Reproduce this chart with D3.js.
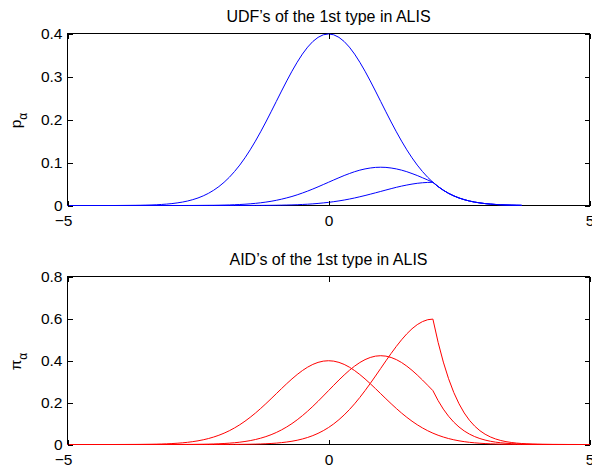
<!DOCTYPE html>
<html><head><meta charset="utf-8">
<script src="https://cdn.jsdelivr.net/npm/d3@7"></script>
<style>
body{margin:0;background:#fff}
svg{display:block}
text{font-family:"Liberation Sans",Arial,Helvetica,sans-serif;fill:#000}
</style></head><body>
<svg id="c" width="592" height="470"></svg>
<script>
// sample positions on the x axis
const xs = [-5,-4.9,-4.8,-4.7,-4.6,-4.5,-4.4,-4.3,-4.2,-4.1,-4,-3.9,-3.8,-3.7,-3.6,-3.5,-3.4,-3.3,-3.2,-3.1,-3,-2.9,-2.8,-2.7,-2.6,-2.5,-2.4,-2.3,-2.2,-2.1,-2,-1.9,-1.8,-1.7,-1.6,-1.5,-1.4,-1.3,-1.2,-1.1,-1,-0.9,-0.8,-0.7,-0.6,-0.5,-0.4,-0.3,-0.2,-0.1,0,0.1,0.2,0.3,0.4,0.5,0.6,0.7,0.8,0.9,1,1.1,1.2,1.3,1.4,1.5,1.6,1.7,1.8,1.9,2,2.1,2.2,2.3,2.4,2.5,2.6,2.7,2.8,2.9,3,3.1,3.2,3.3,3.4,3.5,3.6,3.7,3.8,3.9,4,4.1,4.2,4.3,4.4,4.5,4.6,4.7,4.8,4.9,5];

// UDF's (top panel), x = -5 .. 3.7
const udf1 = [0,0,0,0,0,0,0,0,0,0,
 .0001,.0002,.0003,.0004,.0006,.0009,.0012,.0017,.0024,.0033,.0044,.0060,.0079,.0104,.0136,.0175,.0224,.0283,.0355,.0440,
 .0540,.0656,.0790,.0940,.1109,.1295,.1497,.1714,.1942,.2179,.2420,.2661,.2897,.3123,.3332,.3521,.3683,.3814,.3910,.3970,
 .3989,
 .3970,.3910,.3814,.3683,.3521,.3332,.3123,.2897,.2661,.2420,.2179,.1942,.1714,.1497,.1295,.1109,.0940,.0790,.0656,.0540,
 .0440,.0355,.0283,.0224,.0175,.0136,.0104,.0079,.0060,.0044,.0033,.0024,.0017,.0012,.0009,.0006,.0004];
const udf2 = [0,0,0,0,0,0,0,0,0,0,0,0,0,0,0,0,0,0,0,0,0,0,0,
 .0001,.0001,.0002,.0003,.0004,.0005,.0007,.0010,.0013,.0018,.0023,.0030,.0039,.0050,.0063,.0079,.0098,.0121,.0147,.0177,.0210,.0248,.0290,.0335,.0383,.0434,.0487,
 .0540,.0594,.0646,.0697,.0743,.0786,.0822,.0851,.0872,.0886,.0890,.0886,.0872,.0851,.0822,.0786,.0743,.0697,.0646,.0594,.0540,
 .0440,.0355,.0283,.0224,.0175,.0136,.0104,.0079,.0060,.0044,.0033,.0024,.0017,.0012,.0009,.0006,.0004];
const udf3 = [0,0,0,0,0,0,0,0,0,0,0,0,0,0,0,0,0,0,0,0,0,0,0,0,0,0,0,0,0,0,0,0,0,0,
 .0001,.0001,.0002,.0002,.0003,.0004,.0006,.0008,.0011,.0014,.0018,.0024,.0030,.0038,.0048,.0060,
 .0073,.0089,.0107,.0127,.0150,.0175,.0203,.0232,.0263,.0295,.0327,.0360,.0392,.0423,.0451,.0476,.0498,.0516,.0529,.0537,.0540,
 .0440,.0355,.0283,.0224,.0175,.0136,.0104,.0079,.0060,.0044,.0033,.0024,.0017,.0012,.0009,.0006,.0004];

// AID's (bottom panel), x = -5 .. 5
const aid1 = [0,0,0,0,0,0,0,0,0,0,
 .0001,.0002,.0003,.0004,.0006,.0009,.0012,.0017,.0024,.0033,.0044,.0060,.0079,.0104,.0136,.0175,.0224,.0283,.0355,.0440,
 .0540,.0656,.0790,.0940,.1109,.1295,.1497,.1714,.1942,.2179,.2420,.2661,.2897,.3123,.3332,.3521,.3683,.3814,.3910,.3970,
 .3989,
 .3970,.3910,.3814,.3683,.3521,.3332,.3123,.2897,.2661,.2420,.2179,.1942,.1714,.1497,.1295,.1109,.0940,.0790,.0656,.0540,
 .0440,.0355,.0283,.0224,.0175,.0136,.0104,.0079,.0060,.0044,.0033,.0024,.0017,.0012,.0009,.0006,.0004,.0003,.0002,.0001,
 0,0,0,0,0,0,0,0,0,0];
const aid2 = [0,0,0,0,0,0,0,0,0,0,0,0,0,0,0,0,0,0,0,0,
 .0001,.0002,.0003,.0004,.0006,.0010,.0013,.0018,.0025,.0035,.0047,.0064,.0084,.0110,.0144,.0185,.0237,.0300,.0376,.0466,
 .0572,.0695,.0837,.0996,.1175,.1373,.1587,.1817,.2058,.2310,
 .2565,.2820,.3071,.3310,.3532,.3732,.3904,.4042,.4144,.4208,.4228,.4208,.4144,.4042,.3904,.3732,.3532,.3310,.3071,.2820,.2565,
 .2090,.1685,.1346,.1064,.0833,.0645,.0495,.0376,.0283,.0211,.0155,.0113,.0082,.0059,.0041,.0029,.0020,.0014,.0009,.0006,
 .0004,.0003,.0002,.0001,.0001,0,0,0,0,0];
const aid3 = [0,0,0,0,0,0,0,0,0,0,0,0,0,0,0,0,0,0,0,0,0,0,0,0,0,0,0,0,
 .0001,.0001,.0002,.0003,.0004,.0006,.0009,.0013,.0018,.0026,.0036,.0049,.0066,.0089,.0119,.0156,.0203,.0262,.0335,.0424,.0531,.0658,
 .0808,.0982,.1182,.1407,.1660,.1938,.2241,.2565,.2907,.3261,.3622,.3983,.4336,.4674,.4987,.5270,.5512,.5708,.5852,.5942,.5971,
 .4865,.3924,.3134,.2477,.1939,.1502,.1153,.0876,.0658,.0490,.0361,.0264,.0191,.0136,.0097,.0068,.0047,.0032,.0022,.0015,
 .0010,.0007,.0004,.0003,.0002,.0001,.0001,0,0,0];

const xTicks = [-5, 0, 5];
const udfTicks = [0, 0.1, 0.2, 0.3, 0.4];
const aidTicks = [0, 0.2, 0.4, 0.6, 0.8];
const titles = ["UDF\u2019s of the 1st type in ALIS", "AID\u2019s of the 1st type in ALIS"];
const yLabels = [["p", "\u03B1"], ["\u03C0", "\u03B1"]];

const svg = d3.select("#c");
const L = 67.5, R = 589.5;
const x = d3.scaleLinear().domain([-5, 5]).range([L, R]);

function panel(T, B, ymax, yTicks, series, color, title, ylab) {
  const y = d3.scaleLinear().domain([0, ymax]).range([B, T]);
  const g = svg.append("g");
  // box
  g.append("rect").attr("x", L).attr("y", T).attr("width", R - L).attr("height", B - T)
    .attr("fill", "none").attr("stroke", "#000").attr("stroke-width", 1).attr("shape-rendering", "crispEdges");
  // curves
  const line = d3.line().x(d => x(d[0])).y(d => y(d[1]));
  series.forEach(s => {
    g.append("path").datum(s.map((v, i) => [xs[i], v]))
      .attr("d", line).attr("fill", "none").attr("stroke", color).attr("stroke-width", 1);
  });
  const fmtX = d => d < 0 ? "\u2212" + Math.abs(d) : String(d);
  const ax = g.append("g").attr("transform", `translate(0,${B})`)
    .call(d3.axisBottom(x).tickValues(xTicks).tickSize(-5).tickPadding(9).tickFormat(fmtX));
  ax.selectAll("text").attr("dx", d => d < 0 ? -4.5 : 0);
  g.append("g").attr("transform", `translate(0,${T})`)
    .call(d3.axisTop(x).tickValues(xTicks).tickSize(-5).tickFormat(""));
  g.append("g").attr("transform", `translate(${L},0)`)
    .call(d3.axisLeft(y).tickValues(yTicks).tickSize(-5).tickPadding(5).tickFormat(d => String(d)));
  g.append("g").attr("transform", `translate(${R},0)`)
    .call(d3.axisRight(y).tickValues(yTicks).tickSize(-5).tickFormat(""));
  g.selectAll(".domain").remove();
  g.selectAll(".tick line").attr("stroke", "#000").attr("shape-rendering", "crispEdges");
  g.selectAll(".tick text").attr("font-size", 15.5).attr("font-family", null).attr("fill", "#000");
  // title
  g.append("text").attr("x", (L + R) / 2).attr("y", T - 11.5).attr("text-anchor", "middle")
    .attr("font-size", 16).text(title);
  // y label
  const cy = (T + B) / 2 + 1, cx = 21;
  const t = g.append("text").attr("transform", `translate(${cx},${cy}) rotate(-90)`)
    .attr("text-anchor", "middle").attr("font-size", 15.5);
  t.append("tspan").text(ylab[0]);
  t.append("tspan").attr("font-size", 12).attr("dy", 6).text(ylab[1]);
}

panel(33.5, 205.5, 0.4, udfTicks, [udf1, udf2, udf3], "#0000ff", titles[0], yLabels[0]);
panel(276.5, 444.5, 0.8, aidTicks, [aid1, aid2, aid3], "#ff0000", titles[1], yLabels[1]);
</script>
</body></html>
